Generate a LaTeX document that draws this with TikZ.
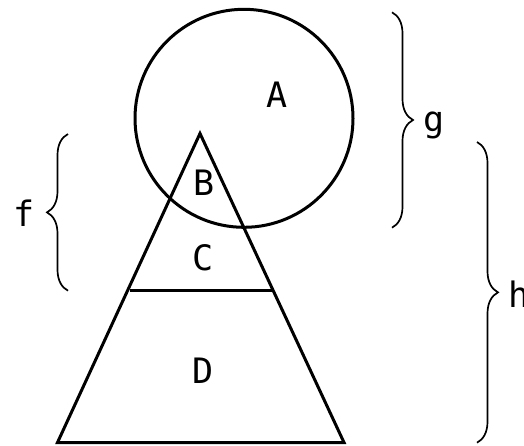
\documentclass[tikz,border=0pt]{standalone}
\usepackage{fontspec}
\setmainfont{DejaVu Sans Mono}
\usetikzlibrary{decorations.pathreplacing}
\tikzset{
  shape line/.style={line width=3pt, line join=miter},
  bracestyle/.style={line width=1.7pt, decorate, decoration={brace, amplitude=21pt}},
  lbl/.style={anchor=base, inner sep=0pt, font=\fontsize{35}{42}\selectfont}
}
\begin{document}
\begin{tikzpicture}[x=1pt, y=-1pt]
\useasboundingbox (0,0) rectangle (524,445);
% circle
\coordinate (cc) at (244,118.3);
\draw[shape line] (cc) circle (109);
% triangle
\coordinate (apex) at (200,133.5);
\coordinate (bl) at (57.5,442.5);
\coordinate (br) at (344,442.5);
\draw[shape line] (apex) -- (bl) -- (br) -- cycle;
\coordinate (ml) at (130,290);
\coordinate (mr) at (271.5,290);
\draw[shape line] (ml) -- (mr);
% labels
\node[lbl] (A) at (277,107.3) {A};
\node[lbl] (B) at (204,195) {B};
\node[lbl] (C) at (203,270) {C};
\node[lbl] (D) at (203,383) {D};
% braces
\coordinate (gt) at (392,12.3);
\coordinate (gb) at (392,227.7);
\draw[bracestyle] (gt) -- (gb);
\coordinate (ft) at (68,134);
\coordinate (fb) at (68,290.7);
\draw[bracestyle] (fb) -- (ft);
\coordinate (ht) at (477,142);
\coordinate (hb) at (477,442.7);
\draw[bracestyle] (ht) -- (hb);
\node[lbl] (f) at (24,226) {f};
\node[lbl] (g) at (434,131.5) {g};
\node[lbl] (h) at (519,307) {h};
\end{tikzpicture}
\end{document}
